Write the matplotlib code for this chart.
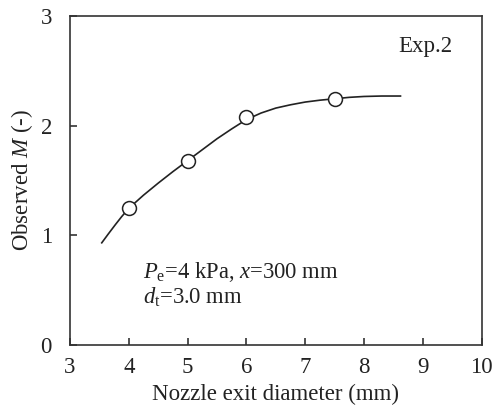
import matplotlib
matplotlib.use("Agg")
import matplotlib.pyplot as plt

# Observed points
diam = [4.0, 5.0, 6.0, 7.5]
obs_m = [1.25, 1.68, 2.08, 2.24]

# Fitted curve
curve_x = [3.54, 3.65, 3.77, 3.88, 4.0, 4.25, 4.5, 4.75, 5.0, 5.25, 5.5, 5.75, 6.0, 6.25,
           6.5, 6.75, 7.0, 7.25, 7.5, 7.75, 8.0, 8.3, 8.62]
curve_y = [0.93, 1.01, 1.095, 1.17, 1.245, 1.365, 1.475, 1.58, 1.68, 1.78, 1.88, 1.97,
           2.055, 2.115, 2.16, 2.19, 2.215, 2.232, 2.245, 2.258, 2.266, 2.27, 2.27]

xticks = [3, 4, 5, 6, 7, 8, 9, 10]
yticks = [0, 1, 2, 3]

plt.rcParams['font.family'] = ['Liberation Serif', 'DejaVu Serif']
plt.rcParams['mathtext.fontset'] = 'custom'
plt.rcParams['mathtext.rm'] = 'Liberation Serif'
plt.rcParams['mathtext.it'] = 'Liberation Serif:italic'

fig = plt.figure(figsize=(4.94, 4.16), dpi=100)
ax = fig.add_axes([0.1417, 0.1714, 0.8333, 0.79])

ax.plot(curve_x, curve_y, color='#222222', lw=1.2, zorder=2)
ax.plot(diam, obs_m, 'o', ms=10, mfc='white', mec='#222222', mew=1.1, zorder=3)

ax.set_xlim(3, 10)
ax.set_ylim(0, 3)
ax.set_xticks(xticks)
ax.set_yticks(yticks)
ax.tick_params(direction='in', length=5, width=1.1, labelsize=16.5, colors='#222222')
ax.tick_params(axis='y', pad=13)
ax.tick_params(axis='x', pad=9)
for s in ax.spines.values():
    s.set_linewidth(1.2)
    s.set_color('#333333')

ax.set_xlabel('Nozzle exit diameter (mm)', fontsize=16.5, color='#222222', labelpad=4)
ax.set_ylabel('Observed $M$ (-)', fontsize=16.5, color='#222222', labelpad=4)

ax.text(8.58, 2.72, 'Exp.2', fontsize=16.5, color='#222222', va='center')
ax.text(4.24, 0.66, r'$P_{\rm e}$=4 kPa, $x$=300 mm', fontsize=16.3, color='#222222', va='center')
ax.text(4.24, 0.43, r'$d_{\rm t}$=3.0 mm', fontsize=16.3, color='#222222', va='center')

fig.savefig('out.png', dpi=100)
